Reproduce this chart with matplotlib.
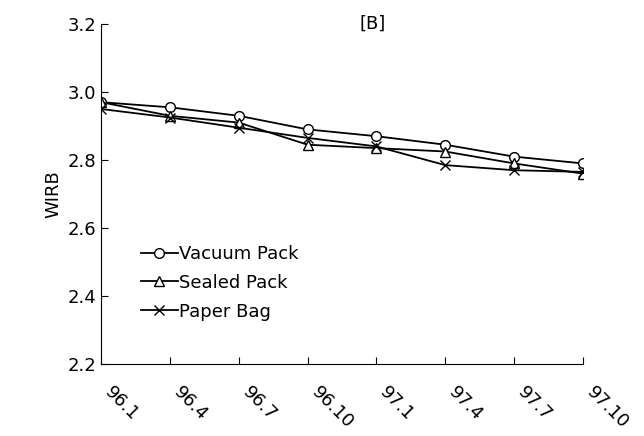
import matplotlib.pyplot as plt

months = ['96.1', '96.4', '96.7', '96.10', '97.1', '97.4', '97.7', '97.10']
vacuum = [2.97, 2.955, 2.93, 2.89, 2.87, 2.845, 2.81, 2.79]
sealed = [2.97, 2.93, 2.91, 2.845, 2.835, 2.825, 2.79, 2.76]
paper = [2.95, 2.925, 2.895, 2.865, 2.84, 2.785, 2.77, 2.765]

fig, ax = plt.subplots(figsize=(6.44, 4.36), dpi=100)
fig.subplots_adjust(left=0.157, right=0.905, top=0.945, bottom=0.165)

x = range(len(months))
ax.plot(x, vacuum, color='black', marker='o', mfc='white', ms=7, lw=1.3, label='Vacuum Pack')
ax.plot(x, sealed, color='black', marker='^', mfc='white', ms=7, lw=1.3, label='Sealed Pack')
ax.plot(x, paper, color='black', marker='x', ms=7, lw=1.3, label='Paper Bag')

ax.set_xlim(0, 7)
ax.set_ylim(2.2, 3.2)
ax.set_yticks([2.2, 2.4, 2.6, 2.8, 3.0, 3.2])
ax.set_yticklabels(['2.2', '2.4', '2.6', '2.8', '3.0', '3.2'], fontsize=13)
ax.set_xticks(list(x))
ax.set_xticklabels(months, rotation=-45, ha='left', fontsize=13)
ax.tick_params(axis='x', direction='in', length=5, pad=14)
ax.tick_params(axis='y', direction='in', length=5)
for s in ['top', 'right']:
    ax.spines[s].set_visible(False)
ax.set_ylabel('WIRB', fontsize=13)
ax.text(3.95, 3.2, '[B]', fontsize=13, ha='center', va='center')

ax.legend(loc='lower left', bbox_to_anchor=(0.05, 0.08), frameon=False, fontsize=13,
          handlelength=2.0, handletextpad=0.1, labelspacing=0.6)

fig.savefig('out.png')
